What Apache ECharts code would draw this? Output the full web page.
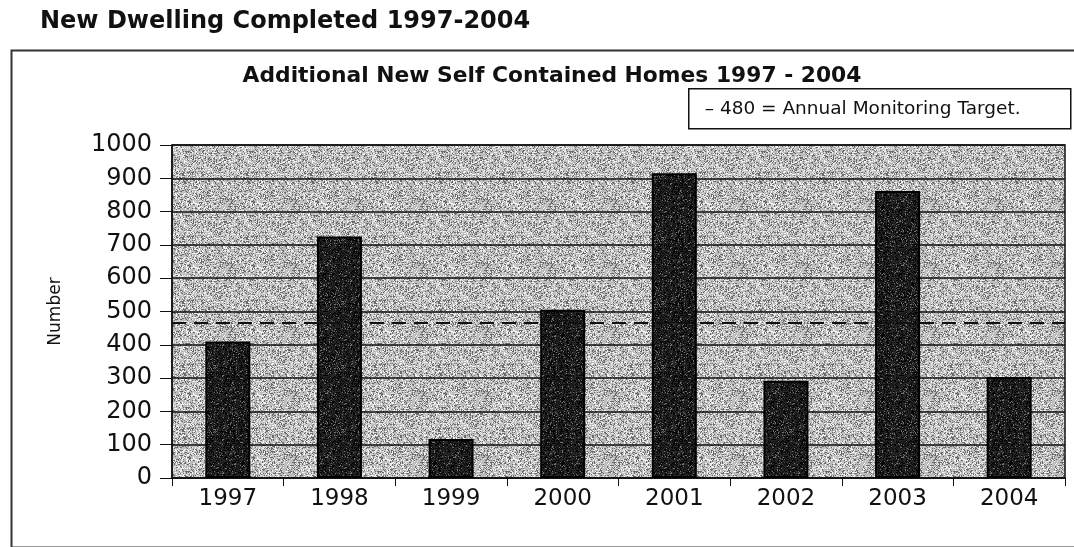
<!DOCTYPE html>
<html lang="en">
<head>
    <meta charset="UTF-8">
    <title>New Dwelling Completed 1997-2004</title>
    <script src="https://cdn.jsdelivr.net/npm/echarts@6/dist/echarts.min.js"></script>
    <style>
        *{ margin: 0; padding: 0; }
        body{ background-color: #fff; overflow: hidden; }
        #main{ width: 1074px; height: 547px; }
    </style>
</head>
<body>
<div id="main"></div>
<script>
    // chart data
    var years = ['1997','1998','1999','2000','2001','2002','2003','2004'];
    var homes = [410, 725, 117, 505, 915, 292, 862, 303];
    var yTicks = [0,100,200,300,400,500,600,700,800,900,1000];
    var targetLine = 467;   // drawn slightly under the 500 line, labelled 480
    var targetText = '\u2013 480 = Annual Monitoring Target.';

    // speckled fill like the scanned print (deterministic hash, not data)
    function speckle(base, dark, light, pDark, pLight, seed) {
        var c = document.createElement('canvas');
        c.width = 64; c.height = 64;
        var ctx = c.getContext('2d');
        ctx.fillStyle = base;
        ctx.fillRect(0,0,64,64);
        var h = seed;
        for(var y=0;y<64;y++){
            for(var x=0;x<64;x++){
                h = (h * 1103515245 + 12345) & 0x7fffffff;
                var r = (h >> 8) / 8388608;
                if(r < pDark){ ctx.fillStyle = dark; ctx.fillRect(x,y,1,1); }
                else if(r > 1 - pLight){ ctx.fillStyle = light; ctx.fillRect(x,y,1,1); }
            }
        }
        return c;
    }
    var bgTex = speckle('#bdbdbd', '#6a6a6a', '#f2f2f2', 0.22, 0.25, 7);
    var barTex = speckle('#262626', '#050505', '#707070', 0.35, 0.08, 3);

    var myChart = echarts.init(document.getElementById('main'));

    var option = {
        backgroundColor: '#fff',
        animation: false,
        title: [
            {
                text: 'New Dwelling Completed 1997-2004',
                left: 35, top: 5,
                textStyle: { fontFamily: 'DejaVu Sans', fontWeight: 'bold', fontSize: 24, color: '#111' }
            },
            {
                text: 'Additional New Self Contained Homes 1997 - 2004',
                left: 547, top: 60, textAlign: 'center',
                textStyle: { fontFamily: 'DejaVu Sans', fontWeight: 'bold', fontSize: 21.8, color: '#111' }
            }
        ],
        graphic: [
            {
                type: 'rect', left: 9, top: 48, z: -1,
                shape: { width: 1100, height: 497 },
                style: { fill: 'none', stroke: '#333', lineWidth: 2 }
            },
            {
                type: 'group', left: 688, top: 88,
                children: [
                    { type: 'rect', shape: { width: 382, height: 40 }, style: { fill: '#fff', stroke: '#111', lineWidth: 1.5 } },
                    { type: 'text', left: 16, top: 11, style: { text: targetText, fontFamily: 'DejaVu Sans', fontSize: 18.5, fill: '#111' } }
                ]
            }
        ],
        grid: {
            left: 172, right: 9, top: 145, bottom: 69,
            show: true,
            backgroundColor: { image: bgTex, repeat: 'repeat' },
            borderColor: '#111', borderWidth: 1.5
        },
        xAxis: {
            type: 'category',
            data: years,
            axisLine: { lineStyle: { color: '#111', width: 1.5 } },
            axisTick: { show: true, length: 8, lineStyle: { color: '#111' } },
            axisLabel: { margin: 10, fontFamily: 'DejaVu Sans', fontSize: 23, color: '#111' },
            splitLine: { show: false }
        },
        yAxis: {
            type: 'value',
            min: 0, max: 1000, interval: 100,
            name: 'Number',
            nameLocation: 'middle',
            nameGap: 108,
            nameRotate: 90,
            nameTextStyle: { fontFamily: 'DejaVu Sans', fontSize: 17, color: '#111' },
            axisLine: { show: true, lineStyle: { color: '#111', width: 1.5 } },
            axisTick: { show: true, length: 12, lineStyle: { color: '#111' } },
            axisLabel: {
                margin: 20, fontFamily: 'DejaVu Sans', fontSize: 24, color: '#111',
                formatter: function (v) { return yTicks.indexOf(v) >= 0 ? String(v) : ''; }
            },
            splitLine: { show: true, lineStyle: { color: '#111', width: 1.5 } }
        },
        series: [
            {
                type: 'bar',
                data: homes,
                barWidth: 45,
                itemStyle: {
                    color: { image: barTex, repeat: 'repeat' },
                    borderColor: '#000',
                    borderWidth: 2
                },
                markLine: {
                    silent: true,
                    symbol: 'none',
                    label: { show: false },
                    lineStyle: { color: '#111', type: [14, 8], width: 2 },
                    data: [{ yAxis: targetLine }]
                }
            }
        ]
    };
    myChart.setOption(option);
    window.onresize = myChart.resize;
</script>
</body>
</html>
